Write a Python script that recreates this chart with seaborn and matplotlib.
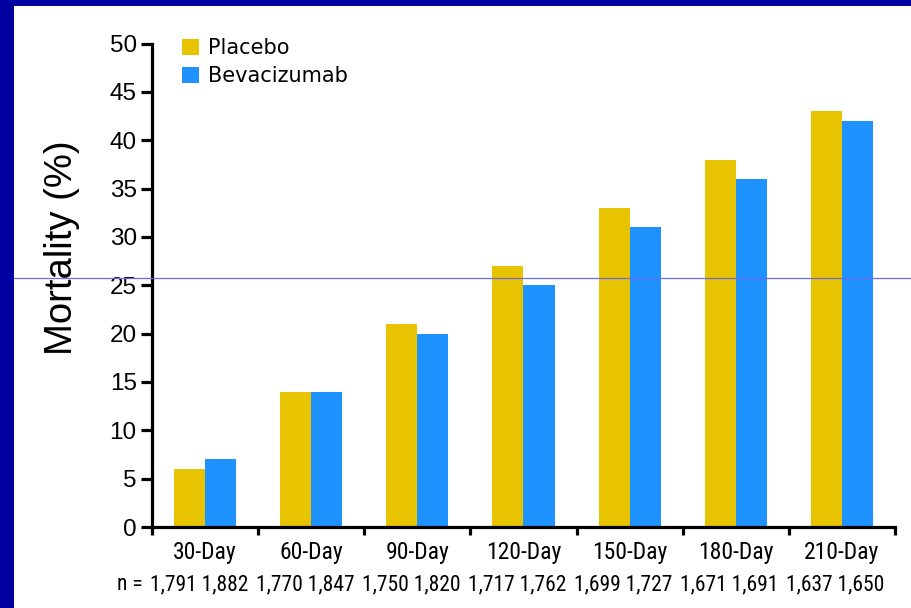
import numpy as np
import pandas as pd
import matplotlib
matplotlib.use("Agg")
import matplotlib.pyplot as plt
import matplotlib.transforms as mtransforms
from matplotlib.patches import Patch, Rectangle
from matplotlib.lines import Line2D
from matplotlib import font_manager
import seaborn as sns

# ---- data ----
categories = ["30-Day", "60-Day", "90-Day", "120-Day", "150-Day", "180-Day", "210-Day"]
placebo = [6, 14, 21, 27, 33, 38, 43]
bevacizumab = [7, 14, 20, 25, 31, 36, 42]
n_placebo = ["1,791", "1,770", "1,750", "1,717", "1,699", "1,671", "1,637"]
n_bev = ["1,882", "1,847", "1,820", "1,762", "1,727", "1,691", "1,650"]
series_names = ["Placebo", "Bevacizumab"]
y_ticks = [0, 5, 10, 15, 20, 25, 30, 35, 40, 45, 50]

YELLOW = "#E8C300"
BLUE = "#1E93FF"
NAVY = "#0000A0"

def pick(fams, default="DejaVu Sans"):
    for f in fams:
        try:
            font_manager.findfont(font_manager.FontProperties(family=f), fallback_to_default=False)
            return f
        except Exception:
            pass
    return default

SANS = pick(["Liberation Sans", "Arial"])
NARROW = pick(["Liberation Sans Narrow", "Roboto Condensed"], SANS)

df = pd.DataFrame({
    "Category": categories * 2,
    "Group": [series_names[0]] * len(categories) + [series_names[1]] * len(categories),
    "Mortality": placebo + bevacizumab,
})

sns.set_style("white")
plt.rcParams["font.family"] = [SANS, "DejaVu Sans"]
plt.rcParams["text.color"] = "black"
plt.rcParams["xtick.color"] = "black"
plt.rcParams["ytick.color"] = "black"

fig = plt.figure(figsize=(9.12, 6.08), dpi=100)
fig.patch.set_facecolor("white")
fig.patch.set_edgecolor("white")
fig.patch.set_linewidth(0)
ax = fig.add_axes([152 / 912, 81 / 608, 743 / 912, 483.4 / 608])

sns.barplot(data=df, x="Category", y="Mortality", hue="Group", order=categories,
            hue_order=series_names, palette=[YELLOW, BLUE], width=0.585, gap=0,
            saturation=1, edgecolor="none", linewidth=0, ax=ax, legend=False)

ax.set_xlim(-0.5, len(categories) - 0.5)
ax.set_ylim(0, 50)
ax.set_xlabel("")
ax.set_ylabel("")
sns.despine(ax=ax, top=True, right=True)
for s in ["left", "bottom"]:
    ax.spines[s].set_linewidth(2.3)
    ax.spines[s].set_color("black")

ax.set_yticks(y_ticks)
ax.set_yticklabels([str(v) for v in y_ticks], fontsize=17.5, family=[SANS], color="black")
ax.tick_params(axis="y", which="major", direction="out", length=8, width=2.3, pad=3, left=True, color="black")

# category separator ticks (major) + centered labels (minor)
ax.set_xticks(np.arange(-0.5, len(categories), 1.0))
ax.set_xticklabels([])
ax.set_xticks(np.arange(len(categories)), minor=True)
ax.set_xticklabels(categories, minor=True, fontsize=17, family=[NARROW, SANS], color="black")
ax.tick_params(axis="x", which="major", direction="out", length=6, width=2.3, bottom=True, color="black")
ax.tick_params(axis="x", which="minor", length=0, pad=10)

# n row
trans = mtransforms.blended_transform_factory(ax.transData, fig.transFigure)
ny = 1 - 585 / 608
for i in range(len(categories)):
    ax.text(i - 0.06, ny, f"{n_placebo[i]} {n_bev[i]}", transform=trans, ha="center", va="center",
            fontsize=15.5, family=[NARROW, SANS], color="black")
ax.text(-0.585, ny, "n =", transform=trans, ha="right", va="center", fontsize=15.5,
        family=[NARROW, SANS], color="black")

# y label
fig.text(62 / 912, 1 - 248 / 608, "Mortality (%)", rotation=90, ha="center", va="center",
         fontsize=27.5, family=[SANS], color="black")

# legend
handles = [Patch(facecolor=YELLOW, edgecolor="none"), Patch(facecolor=BLUE, edgecolor="none")]
leg = fig.legend(handles, series_names, loc="upper left", bbox_to_anchor=(182 / 912, 1 - 38 / 608),
                 frameon=False, borderpad=0, borderaxespad=0, handlelength=0.82, handleheight=0.82,
                 handletextpad=0.45, labelspacing=0.38, prop={"family": "DejaVu Sans", "size": 15})
for t in leg.get_texts():
    t.set_color("black")

# navy frame on top and left
fig.patches.append(Rectangle((0, 1 - 6 / 608), 1, 6 / 608, transform=fig.transFigure,
                             facecolor=NAVY, edgecolor="none", zorder=10))
fig.patches.append(Rectangle((0, 0), 14 / 912, 1, transform=fig.transFigure,
                             facecolor=NAVY, edgecolor="none", zorder=10))
# thin scan line artifact
fig.lines.append(Line2D([14 / 912, 1], [1 - 278 / 608, 1 - 278 / 608], transform=fig.transFigure,
                        color="#6b6be8", linewidth=0.9, zorder=11))

fig.savefig("out.png", dpi=100, facecolor="white", edgecolor="white")
